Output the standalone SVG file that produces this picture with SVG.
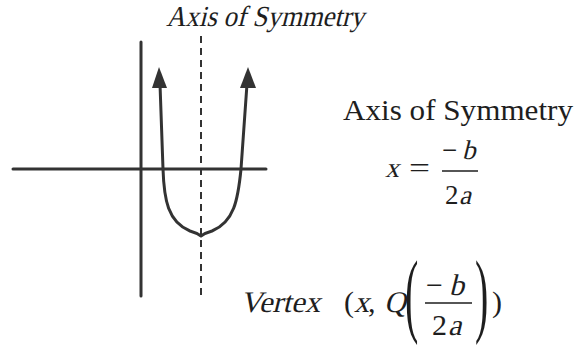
<svg xmlns="http://www.w3.org/2000/svg" width="585" height="345" viewBox="0 0 585 345">
<style>
.t{font-family:"Liberation Serif","Times New Roman",serif;fill:#1e1e1e;font-style:normal}
.ax{stroke:#333;stroke-width:3;fill:none;stroke-linecap:round}
.cv{stroke:#333;stroke-width:3;fill:none;stroke-linejoin:round}
.ah{fill:#333}
.dash{stroke:#333;stroke-width:2;stroke-dasharray:7 5;fill:none}
.bar{stroke:#1e1e1e;stroke-width:1.6}
</style>
<rect width="585" height="345" fill="#fff"/>
<g id="axes">
<line class="ax" x1="141" y1="42" x2="141" y2="296"/>
<line class="ax" x1="13" y1="169" x2="266" y2="169"/>
</g>
<g id="symmetry-line">
<line class="dash" x1="201" y1="36" x2="201" y2="297"/>
</g>
<g id="parabola">
<path class="cv" d="M160,84 L163,169 C164,200 168,222 190,231 Q197,233 201,236 Q205,233 212,231 C234,222 238,200 241,169 L247,84"/>
<polygon class="ah" points="159,67 152,88 167,88"/>
<polygon class="ah" points="248,67 240,88 256,88"/>
</g>
<g id="title-top">
<text class="t" transform="translate(166,26) skewX(-14)" font-size="29" textLength="198" lengthAdjust="spacingAndGlyphs">Axis of Symmetry</text>
</g>
<g id="axis-formula">
<text class="t" x="343" y="120" font-size="30" textLength="230" lengthAdjust="spacingAndGlyphs">Axis of Symmetry</text>
<text class="t" transform="translate(385,177) skewX(-14)" font-size="28">x</text>
<text class="t" x="409" y="177" font-size="28" textLength="21" lengthAdjust="spacingAndGlyphs">=</text>
<text class="t" x="442" y="159" font-size="27">−</text>
<text class="t" transform="translate(462,159) skewX(-14)" font-size="27">b</text>
<line class="bar" x1="442" y1="171" x2="478" y2="171"/>
<text class="t" x="445" y="204" font-size="27">2</text>
<text class="t" transform="translate(459,204) skewX(-14)" font-size="27">a</text>
</g>
<g id="vertex-formula">
<text class="t" transform="translate(240,312) skewX(-14)" font-size="30" textLength="80" lengthAdjust="spacingAndGlyphs">Vertex</text>
<text class="t" x="344" y="312" font-size="30">(</text>
<text class="t" transform="translate(354,312) skewX(-14)" font-size="30">x</text>
<text class="t" x="368" y="312" font-size="30">,</text>
<text class="t" transform="translate(384,312) skewX(-14)" font-size="30">Q</text>
<text class="t" transform="translate(405,325) scale(1,2.35)" font-size="40">(</text>
<text class="t" x="426" y="295" font-size="30">−</text>
<text class="t" transform="translate(449,295) skewX(-14)" font-size="30">b</text>
<line class="bar" x1="425" y1="303" x2="472" y2="303"/>
<text class="t" x="432" y="335" font-size="30">2</text>
<text class="t" transform="translate(448,335) skewX(-14)" font-size="30">a</text>
<text class="t" transform="translate(475,325) scale(1,2.35)" font-size="40">)</text>
<text class="t" x="492" y="312" font-size="30">)</text>
</g>
</svg>
